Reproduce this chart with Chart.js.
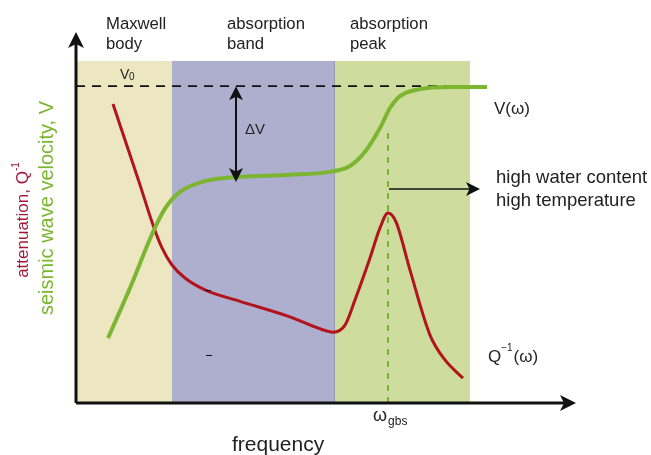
<!DOCTYPE html>
<html>
<head>
<meta charset="utf-8">
<script src="https://cdn.jsdelivr.net/npm/chart.js@4.4.0/dist/chart.umd.min.js"></script>
<style>
  html, body { margin: 0; padding: 0; background: #fff; }
  #wrap { width: 651px; height: 455px; }
</style>
</head>
<body>
<div id="wrap"><canvas id="schema" width="651" height="455"></canvas></div>
<script>
// frequency runs 0..100, both curves on a 0..100 scale
var velFreq = [6.4, 10.8, 15.4, 17.8, 20.8, 25.8, 32.2, 42.8, 50.8, 54.8, 57.8, 60.8, 62.8, 64.8, 68.8, 74.8, 82.2];
var velValue = [17.5, 31.0, 46.1, 52.4, 56.9, 59.8, 60.9, 61.5, 62.3, 63.9, 67.7, 74.1, 79.5, 82.7, 84.6, 85.2, 85.2];

var attFreq = [7.4, 9.8, 12.8, 15.4, 17.2, 19.2, 21.8, 25.8, 32.8, 42.8, 48.8, 51.4, 53.8, 55.8, 58.8, 60.8, 62.4, 64.0, 66.8, 70.8, 73.8, 77.4];
var attValue = [80.6, 70.9, 58.8, 48.0, 41.8, 37.2, 33.7, 30.5, 27.4, 23.2, 20.0, 19.1, 21.0, 27.8, 39.1, 47.2, 51.2, 48.8, 35.8, 18.3, 11.6, 6.7];

// regime bands (frequency limits) and their titles
var bandEdges = [0.2, 19.2, 51.6, 78.8];
var bandTop = 92.2;
var bandColors = ['#ece6c1', '#aeaecf', '#cedd9e'];
var bandTitles = [['Maxwell', 'body'], ['absorption', 'band'], ['absorption', 'peak']];

var V0 = 85.4;          // unrelaxed velocity (dashed)
var V0End = 82.2;
var omegaGbs = 62.4;    // peak frequency
var dVAt = 32;          // where delta V is shown
var dVLow = 59.6;
var arrowY = 57.7;
var arrowEnd = 80.8;

function pts(xs, ys) {
  return xs.map(function (x, i) { return { x: x, y: ys[i] }; });
}

function arrowHead(ctx, x, y, dir, len, half) {
  // dir: angle in radians the head points to
  ctx.save();
  ctx.translate(x, y);
  ctx.rotate(dir);
  ctx.beginPath();
  ctx.moveTo(0, 0);
  ctx.lineTo(-len, -half);
  ctx.lineTo(-len * 0.75, 0);
  ctx.lineTo(-len, half);
  ctx.closePath();
  ctx.fill();
  ctx.restore();
}

var FONT = '"Liberation Sans", Arial, Helvetica, sans-serif';

var decor = {
  id: 'decor',
  beforeDatasetsDraw: function (chart) {
    var ctx = chart.ctx, xs = chart.scales.x, ys = chart.scales.y;
    var yb = ys.getPixelForValue(0), yt = ys.getPixelForValue(bandTop);
    ctx.save();
    for (var i = 0; i < 3; i++) {
      var a = xs.getPixelForValue(bandEdges[i]), b = xs.getPixelForValue(bandEdges[i + 1]);
      ctx.fillStyle = bandColors[i];
      ctx.fillRect(a, yt, b - a, yb - yt);
    }
    // thin edge between blue and green band
    ctx.strokeStyle = '#9a9aae';
    ctx.lineWidth = 1;
    ctx.beginPath();
    ctx.moveTo(xs.getPixelForValue(bandEdges[2]) + 0.5, yt);
    ctx.lineTo(xs.getPixelForValue(bandEdges[2]) + 0.5, yb);
    ctx.stroke();

    // V0 dashed line
    ctx.strokeStyle = '#111';
    ctx.lineWidth = 1.6;
    ctx.setLineDash([9, 7]);
    ctx.beginPath();
    ctx.moveTo(xs.getPixelForValue(0), ys.getPixelForValue(V0));
    ctx.lineTo(xs.getPixelForValue(V0End), ys.getPixelForValue(V0));
    ctx.stroke();

    // omega_gbs dashed line
    ctx.strokeStyle = '#7cb631';
    ctx.lineWidth = 2;
    ctx.setLineDash([6, 6]);
    ctx.beginPath();
    ctx.moveTo(xs.getPixelForValue(omegaGbs), yb);
    ctx.lineTo(xs.getPixelForValue(omegaGbs), ys.getPixelForValue(74.1));
    ctx.stroke();
    ctx.restore();
  },
  afterDatasetsDraw: function (chart) {
    var ctx = chart.ctx, xs = chart.scales.x, ys = chart.scales.y;
    var x0 = xs.getPixelForValue(0), y0 = ys.getPixelForValue(0);
    ctx.save();
    ctx.strokeStyle = '#111';
    ctx.fillStyle = '#111';

    // axes
    ctx.lineWidth = 3;
    ctx.beginPath();
    ctx.moveTo(x0, y0);
    ctx.lineTo(x0, chart.chartArea.top + 8);
    ctx.moveTo(x0, y0);
    ctx.lineTo(chart.chartArea.right - 8, y0);
    ctx.stroke();
    arrowHead(ctx, x0, chart.chartArea.top, -Math.PI / 2, 16, 8);
    arrowHead(ctx, chart.chartArea.right, y0, 0, 16, 8);

    // delta V double arrow
    var dx = xs.getPixelForValue(dVAt);
    var dTop = ys.getPixelForValue(V0), dBot = ys.getPixelForValue(dVLow);
    ctx.lineWidth = 2;
    ctx.beginPath();
    ctx.moveTo(dx, dTop + 8);
    ctx.lineTo(dx, dBot - 8);
    ctx.stroke();
    arrowHead(ctx, dx, dTop, -Math.PI / 2, 14, 7);
    arrowHead(ctx, dx, dBot, Math.PI / 2, 14, 7);

    // arrow to the right of the peak
    var ay = ys.getPixelForValue(arrowY);
    ctx.lineWidth = 1.6;
    ctx.beginPath();
    ctx.moveTo(xs.getPixelForValue(omegaGbs) + 1, ay);
    ctx.lineTo(xs.getPixelForValue(arrowEnd) - 8, ay);
    ctx.stroke();
    arrowHead(ctx, xs.getPixelForValue(arrowEnd), ay, 0, 14, 7);

    // small stray marks from the original figure
    ctx.lineWidth = 1.2;
    ctx.beginPath();
    ctx.moveTo(205, 290.5); ctx.lineTo(211, 290.5);
    ctx.moveTo(206, 355.5); ctx.lineTo(212, 355.5);
    ctx.stroke();
    ctx.restore();
  },
  afterDraw: function (chart) {
    var ctx = chart.ctx;
    ctx.save();
    ctx.fillStyle = '#222';
    ctx.textBaseline = 'alphabetic';
    ctx.textAlign = 'left';

    // band titles
    ctx.font = '16.7px ' + FONT;
    var titleX = [106, 227, 350];
    for (var i = 0; i < 3; i++) {
      ctx.fillText(bandTitles[i][0], titleX[i], 29);
      ctx.fillText(bandTitles[i][1], titleX[i], 49);
    }

    // V0
    ctx.font = '14px ' + FONT;
    ctx.fillText('V', 120, 79);
    ctx.font = '10px ' + FONT;
    ctx.fillText('0', 129, 80);

    // delta V
    ctx.font = '15px ' + FONT;
    ctx.fillText('\u0394V', 245, 134);

    // curve labels
    ctx.font = '17px ' + FONT;
    ctx.fillText('V(\u03c9)', 494, 114);
    ctx.fillText('Q', 488, 362);
    var qw = ctx.measureText('Q').width;
    ctx.font = '10px ' + FONT;
    ctx.fillText('\u22121', 488 + qw, 351);
    var sw = ctx.measureText('\u22121').width;
    ctx.font = '17px ' + FONT;
    ctx.fillText('(\u03c9)', 488 + qw + sw + 1, 362);

    ctx.font = '18.5px ' + FONT;
    ctx.fillText('high water content', 496, 183);
    ctx.fillText('high temperature', 496, 206);

    // omega_gbs tick label
    ctx.font = '18px ' + FONT;
    ctx.fillText('\u03c9', 373, 421);
    var ow = ctx.measureText('\u03c9').width;
    ctx.font = '12px ' + FONT;
    ctx.fillText('gbs', 373 + ow + 1, 425);

    // x axis title
    ctx.font = '21px ' + FONT;
    ctx.fillText('frequency', 232, 451);

    // y axis titles (rotated)
    ctx.save();
    ctx.translate(53, 208);
    ctx.rotate(-Math.PI / 2);
    ctx.textAlign = 'center';
    ctx.fillStyle = '#7cb631';
    ctx.font = '20px ' + FONT;
    ctx.fillText('seismic wave velocity, V', 0, 0);
    ctx.restore();

    ctx.save();
    ctx.translate(28, 220);
    ctx.rotate(-Math.PI / 2);
    ctx.fillStyle = '#a3183a';
    ctx.font = '17px ' + FONT;
    var t1 = 'attenuation, Q';
    var w1 = ctx.measureText(t1).width;
    ctx.font = '10px ' + FONT;
    var w2 = ctx.measureText('-1').width;
    var start = -(w1 + w2) / 2;
    ctx.font = '17px ' + FONT;
    ctx.fillText(t1, start, 0);
    ctx.font = '10px ' + FONT;
    ctx.fillText('-1', start + w1, -9);
    ctx.restore();

    ctx.restore();
  }
};

var ctxEl = document.getElementById('schema');
var chart = new Chart(ctxEl, {
  type: 'line',
  data: {
    datasets: [{
      label: 'V(\u03c9)',
      data: pts(velFreq, velValue),
      borderColor: '#7cb631',
      borderWidth: 4,
      cubicInterpolationMode: 'monotone',
      pointRadius: 0,
      fill: false
    }, {
      label: 'Q\u207b\u00b9(\u03c9)',
      data: pts(attFreq, attValue),
      borderColor: '#b2141e',
      borderWidth: 3,
      cubicInterpolationMode: 'monotone',
      pointRadius: 0,
      fill: false
    }]
  },
  options: {
    responsive: false,
    animation: false,
    devicePixelRatio: 1,
    layout: { padding: { left: 76, right: 75, top: 32, bottom: 52 } },
    plugins: { legend: { display: false }, tooltip: { enabled: false } },
    scales: {
      x: { type: 'linear', min: 0, max: 100, display: false },
      y: { type: 'linear', min: 0, max: 100, display: false }
    }
  },
  plugins: [decor]
});
</script>
</body>
</html>
